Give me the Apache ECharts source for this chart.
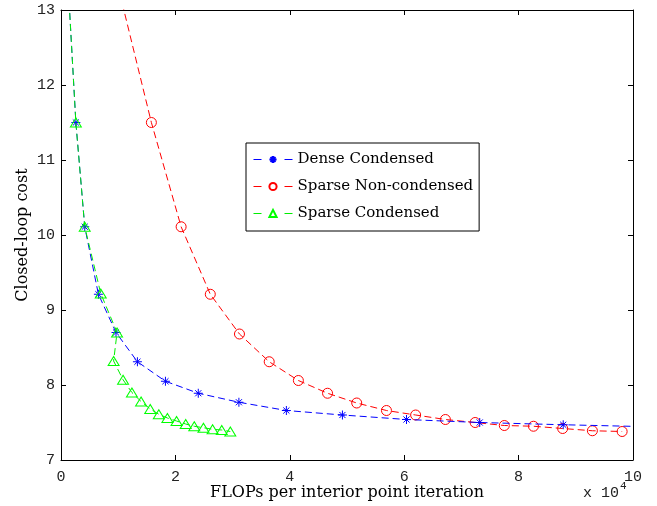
<!DOCTYPE html>
<html>
<head>
<meta charset="utf-8">
<script src="https://cdn.jsdelivr.net/npm/echarts@6/dist/echarts.min.js"></script>
<style>html,body{margin:0;padding:0;background:#fff;}#c{width:657px;height:506px;}</style>
</head>
<body>
<div id="c"></div>
<script>
// FLOPs per interior point iteration (x 10^4) and closed-loop cost
const denseX  = [0.12, 0.26, 0.415, 0.654, 0.962, 1.336, 1.826, 2.40, 3.11, 3.94, 4.92, 6.04, 7.32, 8.78, 10.5];
const denseY  = [13.4, 11.50, 10.11, 9.21, 8.70, 8.31, 8.05, 7.89, 7.77, 7.66, 7.60, 7.54, 7.50, 7.47, 7.44];
const sparseNX = [1.07, 1.58, 2.10, 2.61, 3.12, 3.64, 4.15, 4.66, 5.17, 5.69, 6.20, 6.72, 7.24, 7.75, 8.26, 8.77, 9.29, 9.81];
const sparseNY = [13.09, 11.50, 10.11, 9.21, 8.68, 8.31, 8.06, 7.89, 7.76, 7.66, 7.60, 7.54, 7.50, 7.46, 7.45, 7.42, 7.39, 7.38];
const sparseCX = [0.12, 0.26, 0.415, 0.695, 0.98, 0.92, 1.085, 1.24, 1.40, 1.56, 1.71, 1.86, 2.02, 2.18, 2.33, 2.49, 2.65, 2.81, 2.96];
const sparseCY = [13.4, 11.50, 10.11, 9.22, 8.70, 8.32, 8.07, 7.90, 7.78, 7.68, 7.61, 7.56, 7.52, 7.48, 7.45, 7.43, 7.41, 7.40, 7.38];
const xTicks = [0, 2, 4, 6, 8, 10];
const yTicks = [7, 8, 9, 10, 11, 12, 13];
const names = ['Dense Condensed', 'Sparse Non-condensed', 'Sparse Condensed'];

const zip = (a, b) => a.map((v, i) => [v, b[i]]);
const serif = 'DejaVu Serif';
const mono = 'Liberation Mono';
const asterisk = 'path://M5,0L5,10M0,5L10,5M1.6,1.6L8.4,8.4M1.6,8.4L8.4,1.6';

const chart = echarts.init(document.getElementById('c'), null, {renderer: 'canvas'});
const grid = {left: 61, right: 24, top: 10, bottom: 46, containLabel: false, outerBoundsMode: 'none'};
const tickLine = {show: true, inside: true, length: 5, lineStyle: {color: '#000', width: 1}};
chart.setOption({
  animation: false,
  backgroundColor: '#fff',
  grid: grid,
  xAxis: [{
    type: 'value', min: xTicks[0], max: xTicks[xTicks.length - 1], interval: 2,
    axisLine: {lineStyle: {color: '#000', width: 1}},
    axisTick: tickLine,
    splitLine: {show: false},
    axisLabel: {color: '#222', fontFamily: mono, fontSize: 15, margin: 10},
    name: 'FLOPs per interior point iteration', nameLocation: 'middle', nameGap: 25,
    nameMoveOverlap: false,
    nameTextStyle: {color: '#000', fontFamily: serif, fontSize: 16}
  }, {
    type: 'value', position: 'top', min: xTicks[0], max: xTicks[xTicks.length - 1], interval: 2,
    axisLine: {show: true, onZero: false, lineStyle: {color: '#000', width: 1}},
    axisTick: tickLine, axisLabel: {show: false}, splitLine: {show: false}
  }],
  yAxis: [{
    type: 'value', min: yTicks[0], max: yTicks[yTicks.length - 1], interval: 1,
    axisLine: {show: true, lineStyle: {color: '#000', width: 1}},
    axisTick: tickLine,
    splitLine: {show: false},
    axisLabel: {color: '#222', fontFamily: mono, fontSize: 15, margin: 6},
    name: 'Closed-loop cost', nameLocation: 'middle', nameGap: 30,
    nameMoveOverlap: false,
    nameTextStyle: {color: '#000', fontFamily: serif, fontSize: 16}
  }, {
    type: 'value', position: 'right', min: yTicks[0], max: yTicks[yTicks.length - 1], interval: 1,
    axisLine: {show: true, onZero: false, lineStyle: {color: '#000', width: 1}},
    axisTick: tickLine, axisLabel: {show: false}, splitLine: {show: false}
  }],
  legend: {
    orient: 'vertical', left: 246, top: 143,
    backgroundColor: '#fff', borderColor: '#000', borderWidth: 1,
    padding: [8, 6, 9, 7], itemGap: 10, itemWidth: 39, itemHeight: 9,
    lineStyle: {type: [8, 23], width: 1},
    textStyle: {fontFamily: serif, fontSize: 15, color: '#000', lineHeight: 17},
    data: names
  },
  series: [{
    name: names[0], type: 'line', data: zip(denseX, denseY),
    symbol: asterisk, symbolSize: 9,
    itemStyle: {color: '#0000ff', borderColor: '#0000ff', borderWidth: 1},
    lineStyle: {color: '#0000ff', width: 1, type: [7, 4]},
    clip: true, z: 3
  }, {
    name: names[1], type: 'line', data: zip(sparseNX, sparseNY),
    symbol: 'circle', symbolSize: 10,
    itemStyle: {color: 'rgba(255,255,255,0)', borderColor: '#ff0000', borderWidth: 1},
    lineStyle: {color: '#ff0000', width: 1, type: [7, 4]},
    clip: true, z: 2
  }, {
    name: names[2], type: 'line', data: zip(sparseCX, sparseCY),
    symbol: 'triangle', symbolSize: [11, 9],
    itemStyle: {color: 'rgba(255,255,255,0)', borderColor: '#00ff00', borderWidth: 1},
    lineStyle: {color: '#00ee00', width: 1, type: [7, 4]},
    clip: true, z: 4
  }],
  graphic: [{
    type: 'text', left: 583, top: 481,
    style: {
      text: '{b|x 10}{s|4}',
      rich: {
        b: {fontFamily: mono, fontSize: 15, fill: '#222', padding: [8, 0, 0, 0]},
        s: {fontFamily: mono, fontSize: 11, fill: '#222', padding: [0, 0, 6, 1]}
      }
    }
  }]
});
</script>
</body>
</html>
